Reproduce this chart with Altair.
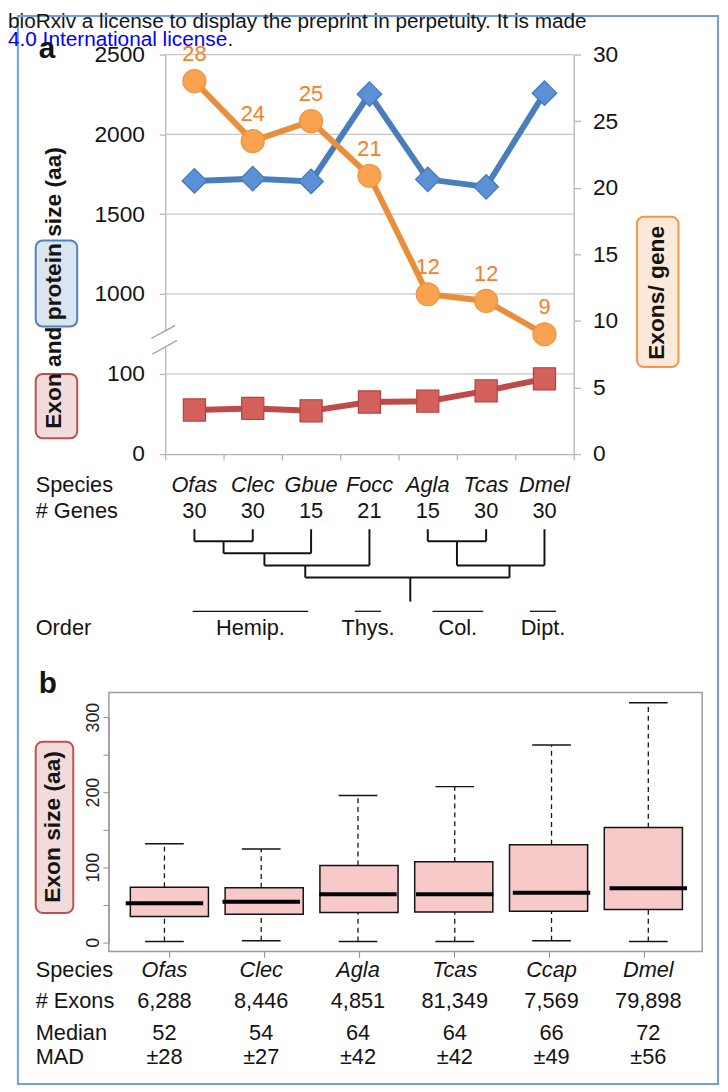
import altair as alt
import pandas as pd

# ---------------- Panel a data ----------------
species_a = ["Ofas", "Clec", "Gbue", "Focc", "Agla", "Tcas", "Dmel"]
genes_a = [30, 30, 15, 21, 15, 30, 30]
protein_size = [1708, 1722, 1705, 2252, 1718, 1671, 2258]
exon_size = [55, 57, 54, 65, 66, 79, 94]
exons_per_gene = [28.0, 23.5, 25.0, 20.9, 12.0, 11.5, 9.0]
exons_per_gene_labels = ["28", "24", "25", "21", "12", "12", "9"]

left_axis_ticks = [0, 100, 1000, 1500, 2000, 2500]
left_grid_values = [100, 1000, 1500, 2000, 2500]
right_axis_ticks = [0, 5, 10, 15, 20, 25, 30]
category_edges = [-0.5, 0.5, 1.5, 2.5, 3.5, 4.5, 5.5, 6.5]

# dendrogram segments: (species index, branch level)
tree_x1 = [0, 1, 2, 3, 4, 5, 6, 0, 0.5, 1.2, 1.9, 4, 4.5, 0.5, 1.2, 1.9, 4.5, 5.4, 3.7]
tree_x2 = [0, 1, 2, 3, 4, 5, 6, 1, 2, 3, 5.4, 5, 6, 0.5, 1.2, 1.9, 4.5, 5.4, 3.7]
tree_y1 = [0, 0, 0, 0, 0, 0, 0, 1, 2, 3, 4, 1, 3, 1, 2, 3, 1, 3, 4]
tree_y2 = [1, 1, 2, 3, 1, 1, 3, 1, 2, 3, 4, 1, 3, 2, 3, 4, 3, 4, 6]

order_names = ["Hemip.", "Thys.", "Col.", "Dipt."]
order_from = [-0.03, 2.75, 4.08, 5.75]
order_to = [1.95, 3.2, 4.95, 6.2]

# ---------------- Panel b data ----------------
species_b = ["Ofas", "Clec", "Agla", "Tcas", "Ccap", "Dmel"]
exon_counts = [6288, 8446, 4851, 81349, 7569, 79898]
median_b = [52, 54, 64, 64, 66, 72]
mad_b = [28, 27, 42, 42, 49, 56]
whisker_low = [1, 2, 1, 1, 2, 1]
q1_b = [34.4, 37.5, 39.6, 40.5, 41.4, 43.6]
q3_b = [73.4, 72.6, 102.4, 107.2, 130.0, 152.8]
whisker_high = [131.4, 124.4, 195.5, 207.4, 263.0, 319.0]
b_axis_ticks = [0, 50, 100, 150, 200, 250, 300]

header_line = "bioRxiv a license to display the preprint in perpetuity. It is made"
license_text = "4.0 International license"

# ---------------- tables ----------------
dfa = pd.DataFrame(dict(i=list(range(len(species_a))), species=species_a, genes=genes_a,
                        protein=protein_size, exon=exon_size, epg=exons_per_gene,
                        lab=exons_per_gene_labels))
dfgrid = pd.DataFrame({"v": left_grid_values})
dftree = pd.DataFrame(dict(x1=tree_x1, x2=tree_x2, y1=tree_y1, y2=tree_y2))
dforder = pd.DataFrame(dict(name=order_names, a=order_from, b=order_to))
dfb = pd.DataFrame(dict(i=list(range(len(species_b))), species=species_b, n=exon_counts,
                        med=median_b, mad=mad_b, lo=whisker_low, q1=q1_b, q3=q3_b,
                        hi=whisker_high))
one = pd.DataFrame({"k": [0]})

W, H = 720, 1084
FONT = "Liberation Sans"
INK = "#141414"
GRAY = "#b5b5b5"

XA = dict(domain=[-0.5, 6.5], range=[159, 572], zero=False, nice=False)
YL = dict(domain=[0, 100, 1000, 2500], range=[445, 364, 283, 41], zero=False, nice=False)
YR = dict(domain=[0, 30], range=[445, 41], zero=False, nice=False)
YD = dict(domain=[0, 6], range=[521, 594.2], zero=False, nice=False)
XB = dict(domain=[0, 5], range=[158.2, 647.5], zero=False, nice=False)
YB = dict(domain=[0, 300], range=[938.7, 711], zero=False, nice=False)


def xa(field="i"):
    return alt.X(f"{field}:Q", scale=alt.Scale(**XA), axis=None)


def xb(field="i"):
    return alt.X(f"{field}:Q", scale=alt.Scale(**XB), axis=None)


def label(text, x, y, size=22, align="left", **kw):
    return alt.Chart(one).mark_text(text=text, font=FONT, fontSize=size, align=align,
                                    baseline="alphabetic", **kw).encode(
        x=alt.value(x), y=alt.value(y))


def box(x1, x2, y1, y2, fill, stroke):
    return alt.Chart(one).mark_rect(cornerRadius=7, fill=fill, stroke=stroke, strokeWidth=2).encode(
        x=alt.value(x1), x2=alt.value(x2), y=alt.value(y1), y2=alt.value(y2))


axis_left_a = alt.Axis(values=left_axis_ticks, orient="left", offset=-159, tickSize=6,
                       labelPadding=15, labelFontSize=23, labelColor=INK, domainColor=GRAY,
                       tickColor=GRAY, domainWidth=1.3, tickWidth=1.3, grid=False, title=None,
                       labelOverlap=False, labelFlush=False, format="d")
axis_right_a = alt.Axis(values=right_axis_ticks, orient="right", offset=-148, tickSize=7,
                        labelPadding=12, labelFontSize=23, labelColor=INK, domainColor=GRAY,
                        tickColor=GRAY, domainWidth=1.3, tickWidth=1.3, grid=False, title=None,
                        labelOverlap=False, labelFlush=False, format="d")
axis_bottom_a = alt.Axis(values=category_edges, orient="bottom", offset=445 - H, tickSize=6,
                         labels=False, domainColor=GRAY, tickColor=GRAY, domainWidth=1.3,
                         tickWidth=1.3, grid=False, title=None)
axis_left_b = alt.Axis(values=b_axis_ticks, orient="left", offset=-102, tickSize=6,
                       labelAngle=270, labelAlign="center", labelBaseline="alphabetic",
                       labelPadding=4, labelFontSize=18, labelColor="#222",
                       labelExpr="datum.value % 100 == 0 ? datum.label : ''",
                       domainColor="#8c8c8c", tickColor="#8c8c8c", grid=False, title=None,
                       labelOverlap=False, labelFlush=False)
axis_bottom_b = alt.Axis(values=list(range(len(species_b))), orient="bottom", offset=948 - H,
                         tickSize=6, labels=False, domain=False, tickColor="#8c8c8c",
                         grid=False, title=None)

layers = []

# outer frame and header text
layers.append(alt.Chart(one).mark_rect(fillOpacity=0, stroke="#6f9fdc", strokeWidth=2).encode(
    x=alt.value(10), x2=alt.value(718), y=alt.value(2), y2=alt.value(1082)))
layers.append(label(header_line, 0, 14, size=21, color=INK))
layers.append(label(license_text, 0, 32, size=21, color="#0000ff"))
layers.append(label(".", 222, 32, size=21, color=INK))
layers.append(label("a", 31, 44, size=30, fontWeight="bold", color=INK))

# gridlines with left + bottom axes
layers.append(alt.Chart(dfgrid).transform_calculate(x0="-0.5", x1="6.5").mark_rule(
    color="#c6c6c6", strokeWidth=1.3).encode(
    x=alt.X("x0:Q", scale=alt.Scale(**XA), axis=axis_bottom_a),
    x2="x1:Q",
    y=alt.Y("v:Q", scale=alt.Scale(**YL), axis=axis_left_a)))

# axis break
layers.append(alt.Chart(one).mark_rect(fill="white").encode(
    x=alt.value(155), x2=alt.value(163), y=alt.value(321), y2=alt.value(337)))
layers.append(alt.Chart(one).mark_rule(color="#a8a8a8", strokeWidth=1.5).encode(
    x=alt.value(145), x2=alt.value(169), y=alt.value(328), y2=alt.value(315)))
layers.append(alt.Chart(one).mark_rule(color="#a8a8a8", strokeWidth=1.5).encode(
    x=alt.value(146), x2=alt.value(171), y=alt.value(344), y2=alt.value(330)))

YLs = alt.Y("exon:Q", scale=alt.Scale(**YL), axis=None)
YPs = alt.Y("protein:Q", scale=alt.Scale(**YL), axis=None)

# exon size (red)
layers.append(alt.Chart(dfa).mark_line(color="#bf4b48", strokeWidth=6).encode(x=xa(), y=YLs))
layers.append(alt.Chart(dfa).mark_point(shape="square", filled=True, size=500, fill="#d4605c",
                                        stroke="#b3423f", strokeWidth=1.2, opacity=1).encode(x=xa(), y=YLs))
# protein size (blue)
layers.append(alt.Chart(dfa).mark_line(color="#4a7ebb", strokeWidth=6).encode(x=xa(), y=YPs))
layers.append(alt.Chart(dfa).mark_point(shape="diamond", filled=True, size=620, fill="#5b90d4",
                                        stroke="#4277b9", strokeWidth=1.2, opacity=1).encode(x=xa(), y=YPs))
# exons per gene (orange), right axis
layers.append(alt.Chart(dfa).mark_line(color="#e98f3b", strokeWidth=6).encode(
    x=xa(), y=alt.Y("epg:Q", scale=alt.Scale(**YR), axis=axis_right_a)))
YRs = alt.Y("epg:Q", scale=alt.Scale(**YR), axis=None)
layers.append(alt.Chart(dfa).mark_point(shape="circle", filled=True, size=540, fill="#f9a250",
                                        stroke="#ef923d", strokeWidth=1.2, opacity=1).encode(x=xa(), y=YRs))
layers.append(alt.Chart(dfa).mark_text(font=FONT, fontSize=22, color="#f58025", dy=-27,
                                       baseline="middle", align="center").encode(
    x=xa(), y=YRs, text="lab:N"))

# axis titles with coloured boxes
layers.append(box(28, 70, 364, 429, "#f2dcdb", "#c0504d"))
layers.append(box(28, 70, 229, 316, "#dbe5f1", "#4f81bd"))
layers.append(alt.Chart(one).mark_text(text="Exon and protein size (aa)", font=FONT, fontSize=23,
                                       fontWeight="bold", angle=270, align="center",
                                       baseline="alphabetic", color=INK).encode(
    x=alt.value(54), y=alt.value(277)))
layers.append(box(636, 678, 205, 357, "#fde9d9", "#f79646"))
layers.append(alt.Chart(one).mark_text(text="Exons/ gene", font=FONT, fontSize=23,
                                       fontWeight="bold", angle=270, align="center",
                                       baseline="alphabetic", color=INK).encode(
    x=alt.value(663), y=alt.value(282)))

# species / genes table
layers.append(label("Species", 28, 483, color=INK))
layers.append(label("# Genes", 28, 510, color=INK))
layers.append(alt.Chart(dfa).mark_text(font=FONT, fontSize=22, fontStyle="italic", align="center",
                                       baseline="alphabetic", color=INK).encode(
    x=xa(), y=alt.value(483), text="species:N"))
layers.append(alt.Chart(dfa).mark_text(font=FONT, fontSize=22, align="center",
                                       baseline="alphabetic", color=INK).encode(
    x=xa(), y=alt.value(510), text="genes:Q"))

# dendrogram
layers.append(alt.Chart(dftree).mark_rule(color=INK, strokeWidth=2).encode(
    x=xa("x1"), x2="x2:Q",
    y=alt.Y("y1:Q", scale=alt.Scale(**YD), axis=None), y2="y2:Q"))

# orders
layers.append(label("Order", 28, 628, color=INK))
layers.append(alt.Chart(dforder).mark_rule(color=INK, strokeWidth=1.3).encode(
    x=xa("a"), x2="b:Q", y=alt.value(604)))
layers.append(alt.Chart(dforder).transform_calculate(mid="(datum.a + datum.b) / 2").mark_text(
    font=FONT, fontSize=22, align="center", baseline="alphabetic", color=INK).encode(
    x=xa("mid"), y=alt.value(628), text="name:N"))

# ---------------- panel b ----------------
layers.append(label("b", 31, 687, size=30, fontWeight="bold", color=INK))
layers.append(alt.Chart(one).mark_rect(fillOpacity=0, stroke="#9c9c9c", strokeWidth=1.5).encode(
    x=alt.value(102), x2=alt.value(702), y=alt.value(686), y2=alt.value(948)))

YBs = lambda f: alt.Y(f"{f}:Q", scale=alt.Scale(**YB), axis=None)

layers.append(alt.Chart(dfb).mark_rule(color=INK, strokeWidth=1.3, strokeDash=[5, 4]).encode(
    x=xb(), y=YBs("lo"), y2="q1:Q"))
layers.append(alt.Chart(dfb).mark_rule(color=INK, strokeWidth=1.3, strokeDash=[5, 4]).encode(
    x=xb(), y=YBs("q3"), y2="hi:Q"))
layers.append(alt.Chart(dfb).transform_calculate(cl="datum.i - 0.2", cr="datum.i + 0.2").mark_rule(
    color=INK, strokeWidth=1.5).encode(x=xb("cl"), x2="cr:Q", y=YBs("lo")))
layers.append(alt.Chart(dfb).transform_calculate(cl="datum.i - 0.2", cr="datum.i + 0.2").mark_rule(
    color=INK, strokeWidth=1.5).encode(x=xb("cl"), x2="cr:Q", y=YBs("hi")))
layers.append(alt.Chart(dfb).mark_bar(size=79, fill="#f7c9c9", stroke=INK, strokeWidth=1.5).encode(
    x=alt.X("i:Q", scale=alt.Scale(**XB), axis=axis_bottom_b),
    y=alt.Y("q1:Q", scale=alt.Scale(**YB), axis=axis_left_b), y2="q3:Q"))
layers.append(alt.Chart(dfb).transform_calculate(bl="datum.i - 0.4", br="datum.i + 0.4").mark_rule(
    color="#000000", strokeWidth=4).encode(x=xb("bl"), x2="br:Q", y=YBs("med")))

layers.append(box(28, 66, 736, 909, "#f2dcdb", "#c0504d"))
layers.append(alt.Chart(one).mark_text(text="Exon size (aa)", font=FONT, fontSize=23,
                                       fontWeight="bold", angle=270, align="center",
                                       baseline="alphabetic", color=INK).encode(
    x=alt.value(53), y=alt.value(822)))

# panel b table
for txt, yy in [("Species", 974), ("# Exons", 1005), ("Median", 1037), ("MAD", 1062)]:
    layers.append(label(txt, 28, yy, color=INK))
layers.append(alt.Chart(dfb).mark_text(font=FONT, fontSize=22, fontStyle="italic", align="center",
                                       baseline="alphabetic", color=INK).encode(
    x=xb(), y=alt.value(974), text="species:N"))
layers.append(alt.Chart(dfb).mark_text(font=FONT, fontSize=22, align="center",
                                       baseline="alphabetic", color=INK).encode(
    x=xb(), y=alt.value(1005), text=alt.Text("n:Q", format=",")))
layers.append(alt.Chart(dfb).mark_text(font=FONT, fontSize=22, align="center",
                                       baseline="alphabetic", color=INK).encode(
    x=xb(), y=alt.value(1037), text="med:Q"))
layers.append(alt.Chart(dfb).transform_calculate(madt="'±' + datum.mad").mark_text(
    font=FONT, fontSize=22, align="center", baseline="alphabetic", color=INK).encode(
    x=xb(), y=alt.value(1062), text="madt:N"))

chart = alt.layer(*layers).resolve_scale(x="independent", y="independent").properties(
    width=W, height=H, padding=0, autosize=alt.AutoSizeParams(type="none")
).configure(font=FONT).configure_view(strokeWidth=0)

chart.save("out.html", embed_options={"renderer": "svg", "actions": False})
